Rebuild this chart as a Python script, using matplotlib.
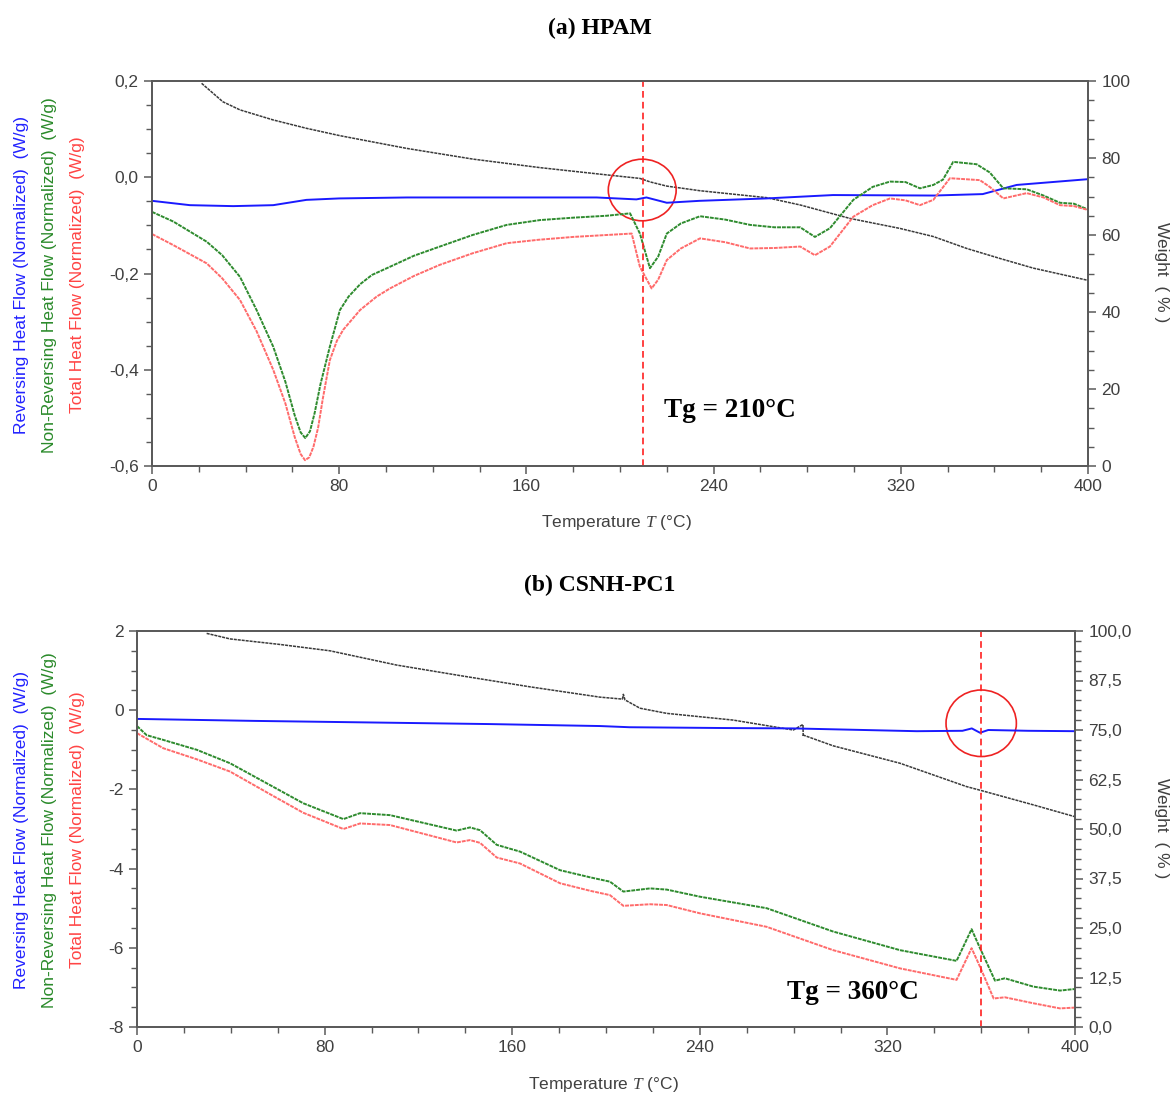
import matplotlib
matplotlib.use("Agg")
import matplotlib.pyplot as plt
from matplotlib.ticker import MultipleLocator, FuncFormatter
from matplotlib.patches import Ellipse

# ---------------- Panel (a) HPAM ----------------
a_w_T = [21.2, 30.3, 37.6, 51.7, 66.1, 80.3, 108.8, 137.3, 165.8, 191.5, 208.5, 212.8, 220, 234.2,
         262.7, 277, 298.3, 319.7, 333.9, 348.2, 362.4, 376.6, 399.4]
a_w = [99.4, 94.6, 92.5, 89.9, 87.7, 85.8, 82.5, 79.7, 77.5, 75.8, 74.7, 73.8, 72.7, 71.5,
       69.7, 67.8, 64.3, 61.7, 59.6, 56.5, 53.9, 51.4, 48.3]

a_rev_T = [0, 16.2, 34.7, 51.8, 66, 80, 109, 150, 190, 207, 211.3, 220, 234, 262.7, 291, 334, 355, 369.5, 400]
a_rev = [-0.049, -0.058, -0.060, -0.058, -0.047, -0.044, -0.042, -0.042, -0.042, -0.046, -0.042, -0.053,
         -0.049, -0.044, -0.037, -0.038, -0.035, -0.016, -0.004]

a_nrev_T = [0, 9.1, 23.4, 30, 37.6, 44.7, 51.8, 57, 61, 63.5, 65.5, 67.5, 69.5, 72, 76, 80.3, 84, 89,
            94, 101.7, 112, 123, 137, 151.6, 165.8, 180, 194.3, 204.3, 208.5, 212.8, 216.3, 220, 226,
            234.2, 245, 255.6, 266, 277, 283.3, 289.7, 299.7, 308, 315.4, 322, 328.2, 333.9, 338,
            342.4, 352.4, 358, 363.8, 373.8, 381, 388, 394, 400]
a_nrev = [-0.072, -0.092, -0.134, -0.162, -0.207, -0.276, -0.352, -0.425, -0.495, -0.530, -0.542, -0.528,
          -0.49, -0.43, -0.352, -0.276, -0.248, -0.222, -0.203, -0.186, -0.163, -0.144, -0.120, -0.099,
          -0.089, -0.084, -0.080, -0.075, -0.117, -0.189, -0.165, -0.117, -0.096, -0.081, -0.088,
          -0.099, -0.104, -0.104, -0.124, -0.106, -0.047, -0.020, -0.009, -0.010, -0.023, -0.016,
          -0.005, 0.032, 0.027, 0.010, -0.023, -0.025, -0.038, -0.053, -0.055, -0.067]

a_tot_T = [0, 9.1, 23.4, 30, 37.6, 44.7, 51.8, 57, 61, 63.5, 65.4, 67.2, 69, 71, 73, 76, 79, 81.7, 88.9,
           96, 101.7, 112, 123, 137, 151.6, 165, 180, 205, 208.5, 213.5, 216.3, 220, 226, 234.2, 245,
           255.6, 266, 277, 283.3, 289.7, 299.7, 308, 315.4, 322, 328.2, 333.9, 341, 353.8, 358, 363.8,
           373.8, 381, 388, 394, 400]
a_tot = [-0.118, -0.141, -0.179, -0.210, -0.255, -0.32, -0.40, -0.47, -0.54, -0.575, -0.588, -0.582,
         -0.56, -0.52, -0.46, -0.38, -0.34, -0.317, -0.276, -0.248, -0.231, -0.205, -0.182, -0.158,
         -0.137, -0.130, -0.124, -0.117, -0.186, -0.231, -0.213, -0.172, -0.148, -0.127, -0.135,
         -0.148, -0.147, -0.144, -0.162, -0.144, -0.082, -0.058, -0.044, -0.048, -0.058, -0.047,
         -0.002, -0.006, -0.020, -0.044, -0.033, -0.042, -0.058, -0.060, -0.068]

a_tg = 210
a_tg_label = "Tg = 210°C"

# ---------------- Panel (b) CSNH-PC1 ----------------
b_w_T = [29.7, 39.7, 61, 82.3, 110.7, 139.2, 167.6, 197.4, 207.0, 207.4, 208.1, 214.5, 225.9, 254.3,
         279.9, 284.0, 284.1, 284.2, 296.9, 325.4, 353.8, 359.5, 382.2, 400]
b_w = [99.4, 98.0, 96.6, 95.0, 91.4, 88.6, 85.9, 83.3, 82.8, 84.0, 82.6, 80.5, 79.2, 77.5,
       75.0, 76.4, 73.4, 73.7, 71.0, 66.6, 60.7, 59.8, 56.1, 53.1]

b_rev_T = [0, 50, 100, 150, 197.4, 210, 250, 280, 332.5, 352, 356, 359.5, 363, 380, 400]
b_rev = [-0.22, -0.27, -0.31, -0.35, -0.40, -0.43, -0.45, -0.46, -0.53, -0.52, -0.46, -0.57, -0.50, -0.52, -0.53]

b_nrev_T = [0, 4.1, 11.2, 25.5, 39.7, 56.7, 70.9, 88, 95.1, 107.9, 136.3, 142, 146.3, 153.4, 163.3, 180.4,
            193.2, 201.7, 207.4, 218.8, 225.9, 240.1, 268.5, 296.9, 325.4, 349.5, 355.9, 359.5, 365.9,
            370.1, 382.2, 393.6, 400]
b_nrev = [-0.40, -0.63, -0.75, -1.0, -1.34, -1.89, -2.35, -2.75, -2.60, -2.65, -3.04, -2.96, -3.03, -3.40,
          -3.57, -4.04, -4.22, -4.33, -4.58, -4.50, -4.53, -4.71, -5.00, -5.59, -6.06, -6.33, -5.53, -6.01,
          -6.83, -6.77, -6.98, -7.08, -7.04]

b_tot_T = [0, 11.2, 25.5, 39.7, 56.7, 70.9, 88, 95.1, 107.9, 136.3, 142, 146.3, 153.4, 163.3, 180.4,
           193.2, 201.7, 207.4, 218.8, 225.9, 240.1, 268.5, 296.9, 325.4, 349.5, 355.9, 359.5, 365.3,
           370.1, 382.2, 393.6, 400]
b_tot = [-0.58, -0.96, -1.24, -1.55, -2.12, -2.59, -3.0, -2.86, -2.90, -3.34, -3.28, -3.35, -3.72, -3.87,
         -4.37, -4.56, -4.67, -4.94, -4.90, -4.92, -5.13, -5.47, -6.06, -6.52, -6.81, -6.01, -6.48, -7.28,
         -7.25, -7.40, -7.53, -7.51]

b_tg = 360
b_tg_label = "Tg = 360°C"

BLUE = "#1a1aff"
GREEN = "#2e8b2e"
RED = "#ff6b6b"
BLACK = "#3a3a3a"
AXC = "#5a5a5a"
TXT = "#404040"
SANS = "Liberation Sans"
SERIF = "Liberation Serif"

plt.rcParams["mathtext.fontset"] = "custom"
plt.rcParams["mathtext.it"] = "Liberation Serif:italic"

fig = plt.figure(figsize=(11.74, 10.94), dpi=100)


def comma(dec):
    def f(v, pos):
        s = f"{v:.{dec}f}".replace(".", ",")
        if s.startswith("-") and abs(v) < 1e-9:
            s = s[1:]
        return s
    return FuncFormatter(f)


def style_axes(ax, ax2, ymaj, ymin, ydec, wmaj, wmin, wdec):
    for a in (ax, ax2):
        for sp in a.spines.values():
            sp.set_color(AXC)
            sp.set_linewidth(1.3)
    ax.set_xlim(0, 400)
    ax.xaxis.set_major_locator(MultipleLocator(80))
    ax.xaxis.set_minor_locator(MultipleLocator(20))
    ax.yaxis.set_major_locator(MultipleLocator(ymaj))
    ax.yaxis.set_minor_locator(MultipleLocator(ymin))
    ax.yaxis.set_major_formatter(comma(ydec))
    ax.xaxis.set_major_formatter(FuncFormatter(lambda v, p: f"{v:.0f}"))
    ax2.set_ylim(0, 100)
    ax2.yaxis.set_major_locator(MultipleLocator(wmaj))
    ax2.yaxis.set_minor_locator(MultipleLocator(wmin))
    ax2.yaxis.set_major_formatter(comma(wdec))
    for a in (ax, ax2):
        a.tick_params(which="major", direction="out", length=6, width=1.1, color=AXC,
                      labelsize=12.5, labelcolor=TXT)
        a.tick_params(which="minor", direction="out", length=4, width=1.0, color=AXC)
        for lab in a.get_xticklabels() + a.get_yticklabels():
            lab.set_fontfamily(SANS)


def panel(rect, title, title_y, w_T, w, rev_T, rev, nrev_T, nrev, tot_T, tot, ylim, ymaj, ymin, ydec,
          wmaj, wmin, wdec, tg, tg_label, tg_xy, ell_center, ell_w, ell_h,
          ylab_y, wlab_y, xlab_x, xlab_y):
    ax = fig.add_axes(rect)
    ax2 = ax.twinx()
    ax.set_zorder(ax2.get_zorder() + 1)
    ax.patch.set_visible(False)
    ax.set_ylim(*ylim)
    ax2.plot(w_T, w, color=BLACK, lw=1.1, ls=(0, (2, 0.6)))
    ax.plot(rev_T, rev, color=BLUE, lw=1.4)
    ax.plot(nrev_T, nrev, color=GREEN, lw=1.4, ls=(0, (2, 0.5)))
    ax.plot(tot_T, tot, color=RED, lw=1.4, ls=(0, (2, 0.5)))
    ax.axvline(tg, color="#ff2020", lw=1.2, ls=(0, (4, 2.5)))
    ax.add_patch(Ellipse(ell_center, ell_w, ell_h, fill=False, edgecolor="#ee2222", lw=1.2))
    ax.text(tg_xy[0], tg_xy[1], tg_label, fontfamily=SERIF, fontweight="bold", fontsize=19.5,
            va="center", ha="left", color="black")
    style_axes(ax, ax2, ymaj, ymin, ydec, wmaj, wmin, wdec)
    fig.text(0.5 + 0.011, title_y, title, fontfamily=SERIF, fontweight="bold", fontsize=17,
             ha="center", va="center")
    fig.text(22 / 1174, ylab_y, "Reversing Heat Flow (Normalized)  (W/g)", rotation=90, color="#2222ff",
             fontfamily=SANS, fontsize=12.5, ha="center", va="center")
    fig.text(50 / 1174, ylab_y, "Non-Reversing Heat Flow (Normalized)  (W/g)", rotation=90, color="#2a8a2a",
             fontfamily=SANS, fontsize=12.5, ha="center", va="center")
    fig.text(78 / 1174, ylab_y, "Total Heat Flow (Normalized)  (W/g)", rotation=90, color="#ff4444",
             fontfamily=SANS, fontsize=12.5, ha="center", va="center")
    fig.text(1162 / 1174, wlab_y, "Weight  ( % )", rotation=270, color=TXT,
             fontfamily=SANS, fontsize=12.5, ha="center", va="center")
    fig.text(xlab_x, xlab_y, "Temperature $\\mathit{T}$ (°C)", color=TXT, fontfamily=SANS,
             fontsize=12.5, ha="center", va="center")
    return ax


H = 1094.0
W = 1174.0
panel([152 / W, 1 - 466 / H, (1088 - 152) / W, (466 - 81) / H], "(a) HPAM", 1 - 28 / H,
      a_w_T, a_w, a_rev_T, a_rev, a_nrev_T, a_nrev, a_tot_T, a_tot, (-0.6, 0.2), 0.2, 0.05, 1,
      20, 5, 0, a_tg, a_tg_label, (219, -0.484), (209.5, -0.0265), 29, 0.128,
      1 - 275 / H, 1 - 272 / H, 616 / W, 1 - 522 / H)

panel([137 / W, 1 - 1027 / H, (1075 - 137) / W, (1027 - 631) / H], "(b) CSNH-PC1", 1 - 585 / H,
      b_w_T, b_w, b_rev_T, b_rev, b_nrev_T, b_nrev, b_tot_T, b_tot, (-8, 2), 2, 0.5, 0,
      12.5, 2.5, 1, b_tg, b_tg_label, (277, -7.14), (360, -0.33), 30, 1.68,
      1 - 830 / H, 1 - 828 / H, 603 / W, 1 - 1084 / H)

fig.savefig("out.png", dpi=100)
